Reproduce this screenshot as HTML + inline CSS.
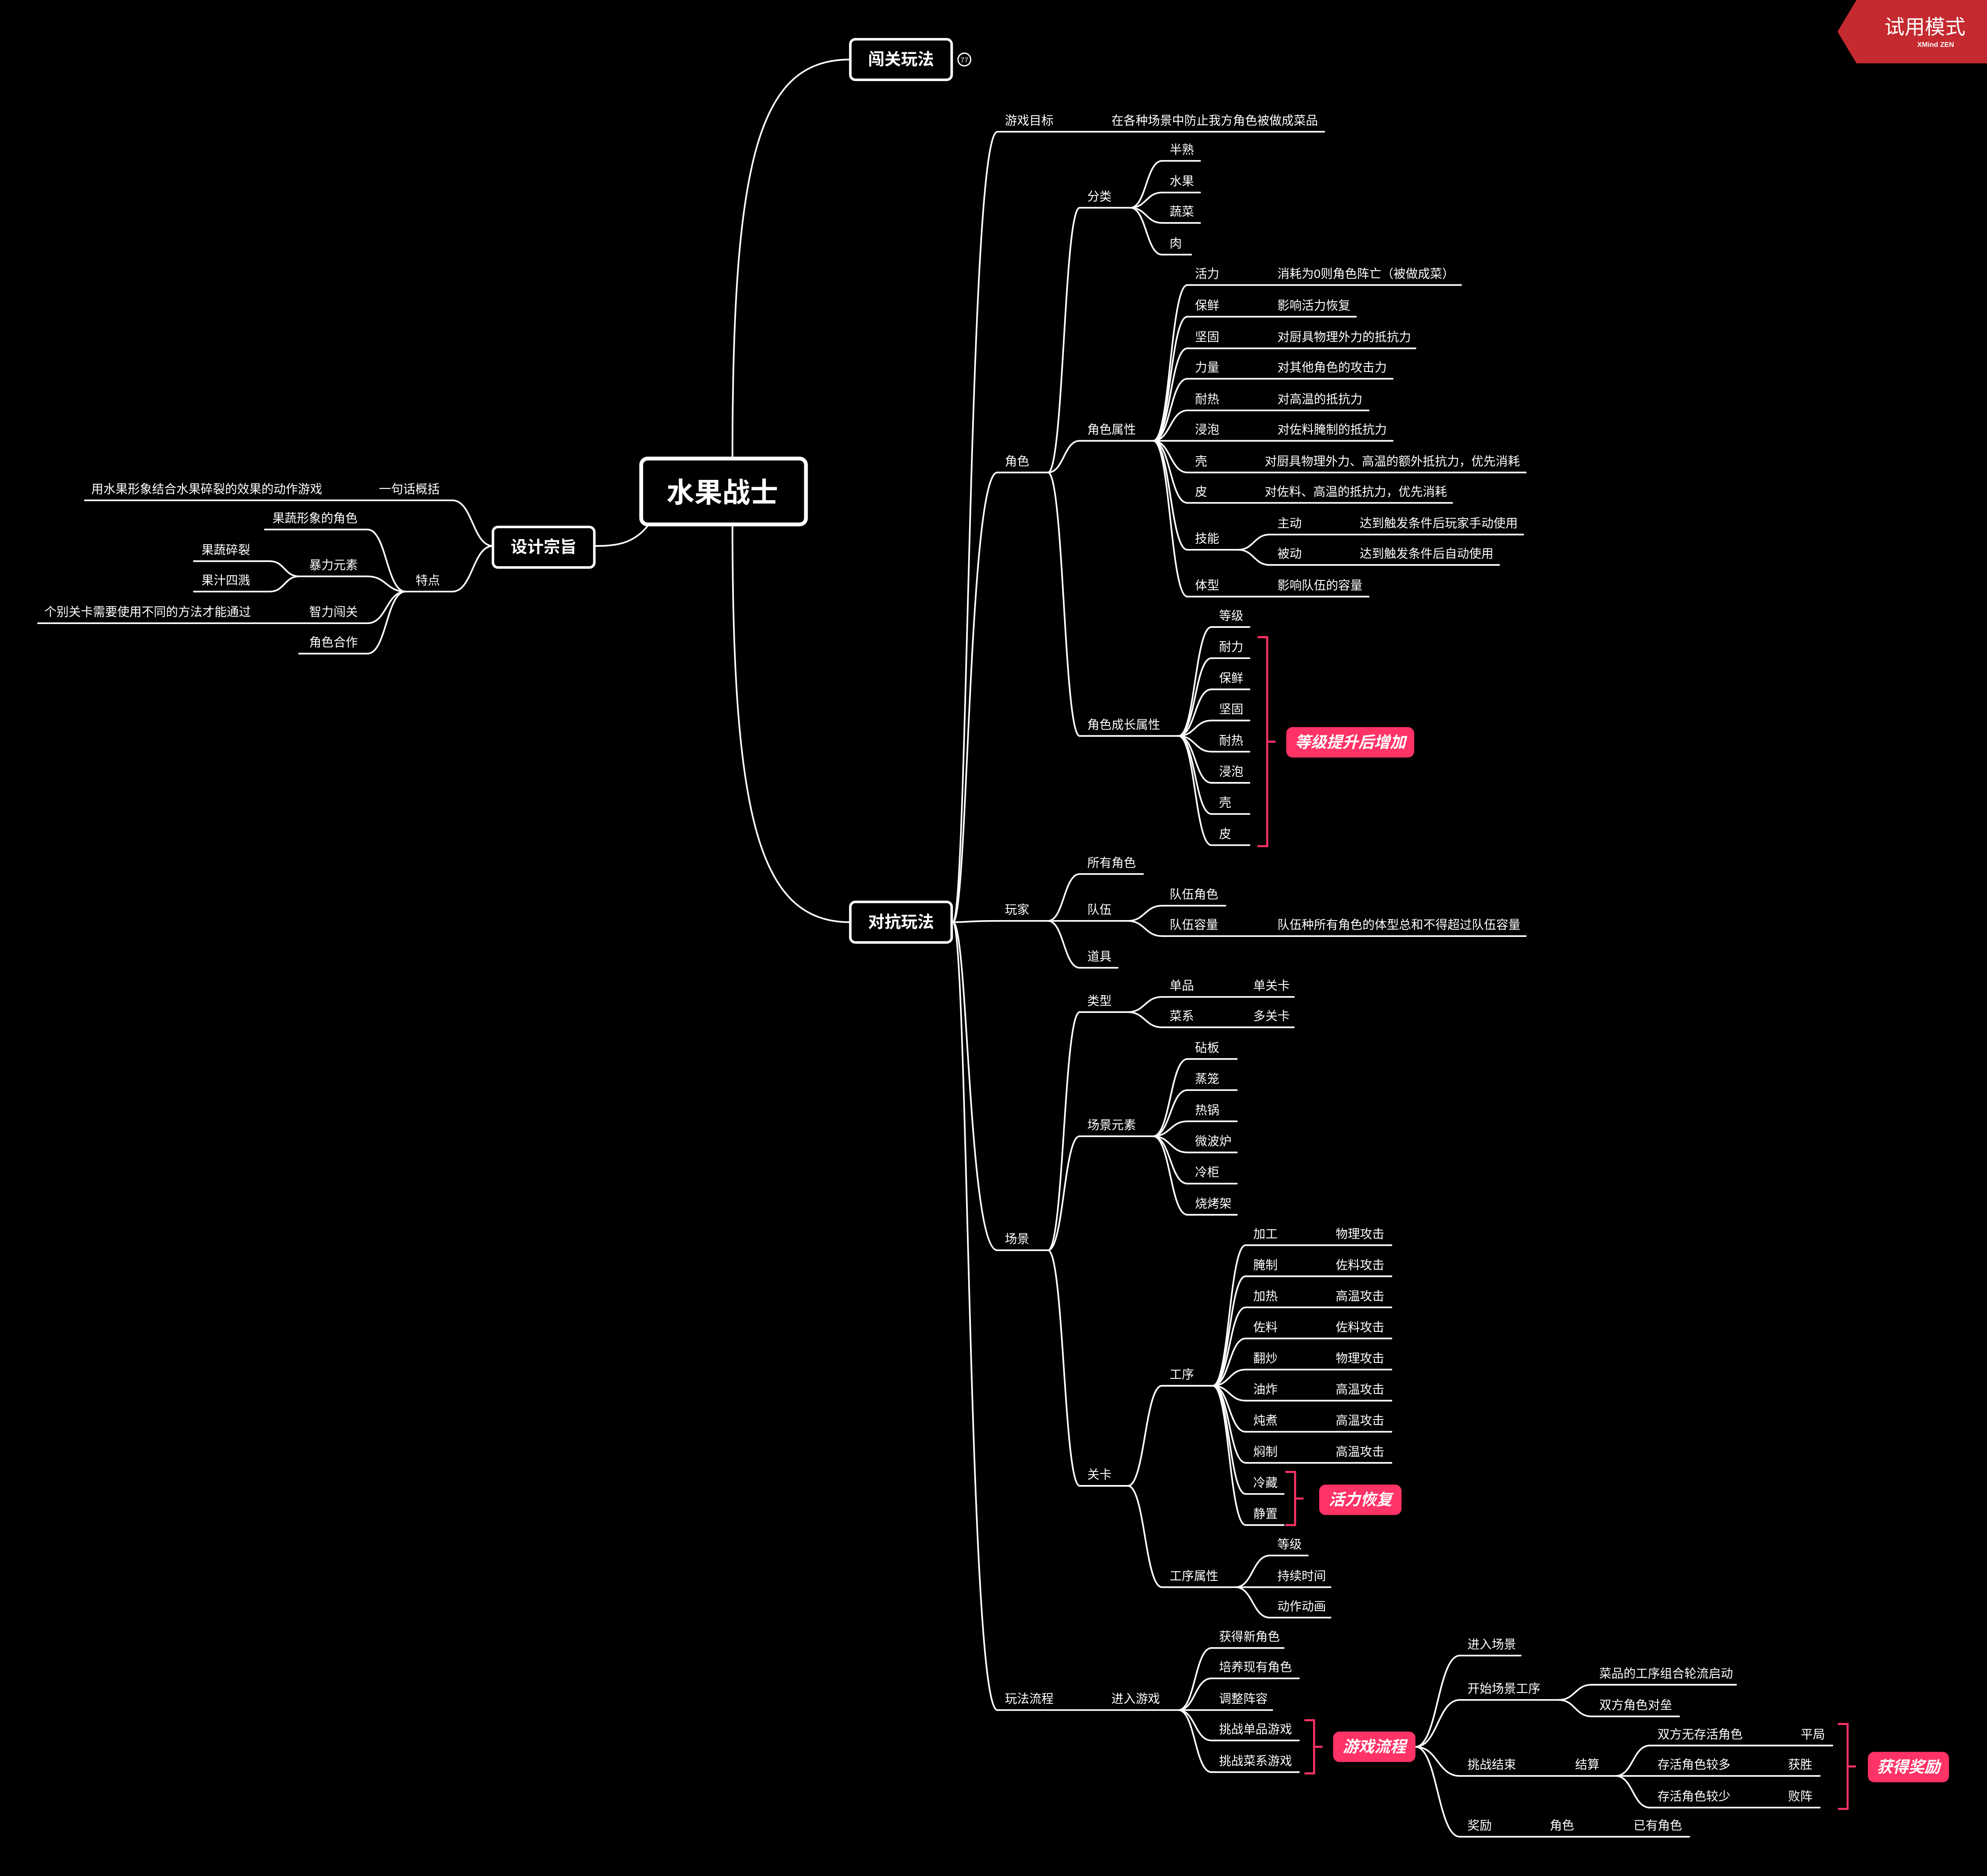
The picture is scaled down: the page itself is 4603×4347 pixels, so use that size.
<!DOCTYPE html>
<html><head><meta charset="utf-8">
<style>
html,body{margin:0;padding:0;background:#000;width:4603px;height:4347px;overflow:hidden}
svg{display:block}
text{font-family:"Liberation Sans","Noto Sans CJK SC",sans-serif;fill:#fff}
</style></head>
<body>
<svg id="s" xmlns="http://www.w3.org/2000/svg" width="4603" height="4347" viewBox="0 0 1568 1481" preserveAspectRatio="none">
<rect x="0" y="0" width="1568" height="1481" fill="#000"/>
<polygon points="1465,0 1568,0 1568,50 1465,50 1450,25" fill="#c42a2f"/>
<text x="1487" y="27" font-size="16">试用模式</text>
<text x="1513" y="37" font-size="5.5" font-weight="bold">XMind ZEN</text>
<!-- main boxes -->
<rect x="506" y="362" width="130" height="52" rx="5" fill="#000" stroke="#fff" stroke-width="3"/>
<text x="570" y="389" font-size="22" font-weight="bold" text-anchor="middle" dominant-baseline="central">水果战士</text>
<rect x="671" y="31" width="80" height="32" rx="4" fill="#000" stroke="#fff" stroke-width="2"/>
<text x="711" y="47" font-size="13" font-weight="bold" text-anchor="middle" dominant-baseline="central">闯关玩法</text>
<circle cx="761" cy="47" r="5" fill="none" stroke="#fff" stroke-width="1"/>
<text x="761" y="47.5" font-size="5.5" text-anchor="middle" dominant-baseline="central">77</text>
<rect x="671" y="712" width="80" height="32" rx="4" fill="#000" stroke="#fff" stroke-width="2"/>
<text x="711" y="728" font-size="13" font-weight="bold" text-anchor="middle" dominant-baseline="central">对抗玩法</text>
<rect x="389" y="416" width="80" height="32" rx="4" fill="#000" stroke="#fff" stroke-width="2"/>
<text x="429" y="432" font-size="13" font-weight="bold" text-anchor="middle" dominant-baseline="central">设计宗旨</text>
<g id="g" fill="none" stroke="#fff" stroke-width="1.3" stroke-linecap="round"></g>
<g id="t"></g>
</svg>
<script>
var NS="http://www.w3.org/2000/svg",G=document.getElementById('g'),TG=document.getElementById('t');
function P(d,w,c){var p=document.createElementNS(NS,'path');p.setAttribute('d',d);if(w)p.setAttribute('stroke-width',w);if(c)p.setAttribute('stroke',c);G.appendChild(p);}
function T(x,y,s,fs){var t=document.createElementNS(NS,'text');t.setAttribute('x',x);t.setAttribute('y',y);t.setAttribute('font-size',fs||9.6);t.setAttribute('dominant-baseline','central');t.textContent=s;TG.appendChild(t);}
function C(px,py,cx,cy,k){var m=k?px+k:px+(cx-px)*0.5;P('M'+px+','+py+' C'+m+','+py+' '+m+','+cy+' '+cx+','+cy);}
function node(n,par,left){
  var yl=n.y+9,s=n.s!=null?n.s:n.x-6;
  P('M'+s+','+yl+' L'+n.e+','+yl);
  T(n.x,n.y,n.t);
  if(n.v)T(n.v[1],n.y,n.v[0]);
  if(n.v2)T(n.v2[1],n.y,n.v2[0]);
  if(par){ if(left)C(par[0],par[1],n.e,yl,par[2]);else C(par[0],par[1],s,yl,par[2]); }
  if(n.c){var ex=n.cx!=null?n.cx:(left?s:n.e);n.c.forEach(function(ch){node(ch,[ex,yl],left);});}
}
// root connectors
P('M578,361 C578,120 600,47 671,47');
P('M578,414 C578,650 600,728 671,728');
P('M512,414 C500,430 485,431 469,431');
// left
var L=[
 {t:'一句话概括',x:299,y:386,s:295,e:357,cx:295,c:[{t:'用水果形象结合水果碎裂的效果的动作游戏',x:72,y:386,s:67,e:295}]},
 {t:'特点',x:328,y:458,s:320,e:357,cx:320,c:[
  {t:'果蔬形象的角色',x:215,y:409,s:209,e:290},
  {t:'暴力元素',x:244,y:446,s:236,e:290,cx:236,c:[{t:'果蔬碎裂',x:159,y:434,s:153,e:213},{t:'果汁四溅',x:159,y:458,s:153,e:213}]},
  {t:'智力闯关',x:244,y:483,s:236,e:290,cx:236,c:[{t:'个别关卡需要使用不同的方法才能通过',x:35,y:483,s:30,e:236}]},
  {t:'角色合作',x:244,y:507,s:236,e:290}]}
];
L.forEach(function(n){node(n,[389,431],true);});
// right
function kv(t,y,v,vx,e,x){return {t:t,x:x||943,y:y,e:e,v:[v,vx]};}
var R=[
 {t:'游戏目标',x:793,y:95,e:1045,v:['在各种场景中防止我方角色被做成菜品',877]},
 {t:'角色',x:793,y:364,e:827,c:[
  {t:'分类',x:858,y:155,e:892,c:[{t:'半熟',x:923,y:118,e:947},{t:'水果',x:923,y:143,e:947},{t:'蔬菜',x:923,y:167,e:947},{t:'肉',x:923,y:192,e:940}]},
  {t:'角色属性',x:858,y:339,e:910,c:[
   kv('活力',216,'消耗为0则角色阵亡（被做成菜）',1008,1153),
   kv('保鲜',241,'影响活力恢复',1008,1070),
   kv('坚固',266,'对厨具物理外力的抵抗力',1008,1117),
   kv('力量',290,'对其他角色的攻击力',1008,1099),
   kv('耐热',315,'对高温的抵抗力',1008,1080),
   kv('浸泡',339,'对佐料腌制的抵抗力',1008,1099),
   kv('壳',364,'对厨具物理外力、高温的额外抵抗力，优先消耗',998,1204),
   kv('皮',388,'对佐料、高温的抵抗力，优先消耗',998,1146),
   {t:'技能',x:943,y:425,e:977,c:[kv('主动',413,'达到触发条件后玩家手动使用',1073,1202,1008),kv('被动',437,'达到触发条件后自动使用',1073,1183,1008)]},
   kv('体型',462,'影响队伍的容量',1008,1080)]},
  {t:'角色成长属性',x:858,y:572,e:930,c:['等级','耐力','保鲜','坚固','耐热','浸泡','壳','皮'].map(function(s,i){return {t:s,x:962,y:486+i*24.6,e:986};})}
 ]},
 {t:'玩家',x:793,y:718,e:827,c:[
  {t:'所有角色',x:858,y:681,e:902},
  {t:'队伍',x:858,y:718,e:890,c:[{t:'队伍角色',x:923,y:706,e:967},{t:'队伍容量',x:923,y:730,e:1204,v:['队伍种所有角色的体型总和不得超过队伍容量',1008]}]},
  {t:'道具',x:858,y:755,e:882}]},
 {t:'场景',x:793,y:978,e:827,c:[
  {t:'类型',x:858,y:790,e:890,c:[{t:'单品',x:923,y:778,e:1021,v:['单关卡',989]},{t:'菜系',x:923,y:802,e:1021,v:['多关卡',989]}]},
  {t:'场景元素',x:858,y:888,e:910,c:['砧板','蒸笼','热锅','微波炉','冷柜','烧烤架'].map(function(s,i){return {t:s,x:943,y:827+i*24.6,e:976};})},
  {t:'关卡',x:858,y:1164,e:890,c:[
   {t:'工序',x:923,y:1085,e:957,c:[['加工','物理攻击'],['腌制','佐料攻击'],['加热','高温攻击'],['佐料','佐料攻击'],['翻炒','物理攻击'],['油炸','高温攻击'],['炖煮','高温攻击'],['焖制','高温攻击'],['冷藏'],['静置']].map(function(a,i){var n={t:a[0],x:989,y:974+i*24.55,e:a[1]?1098:1013};if(a[1])n.v=[a[1],1054];return n;})},
   {t:'工序属性',x:923,y:1244,e:975,c:[{t:'等级',x:1008,y:1219,e:1032},{t:'持续时间',x:1008,y:1244,e:1050},{t:'动作动画',x:1008,y:1268,e:1050}]}]}
 ]},
 {t:'玩法流程',x:793,y:1341,e:930,v:['进入游戏',877],c:[
  {t:'获得新角色',x:962,y:1292,e:1013},{t:'培养现有角色',x:962,y:1316,e:1025},{t:'调整阵容',x:962,y:1341,e:1004},{t:'挑战单品游戏',x:962,y:1365,e:1025},{t:'挑战菜系游戏',x:962,y:1390,e:1025}]}
];
R.forEach(function(n){node(n,[752,728,12]);});
// 游戏流程 subtree
var F=[
 {t:'进入场景',x:1158,y:1298,e:1200},
 {t:'开始场景工序',x:1158,y:1333,e:1230,c:[{t:'菜品的工序组合轮流启动',x:1262,y:1321,e:1370},{t:'双方角色对垒',x:1262,y:1346,e:1325}]},
 {t:'挑战结束',x:1158,y:1393,e:1275,v:['结算',1243],c:[
  {t:'双方无存活角色',x:1308,y:1369,e:1446,v:['平局',1421]},
  {t:'存活角色较多',x:1308,y:1393,e:1436,v:['获胜',1411]},
  {t:'存活角色较少',x:1308,y:1418,e:1436,v:['败阵',1411]}]},
 {t:'奖励',x:1158,y:1441,e:1333,v:['角色',1223],v2:['已有角色',1289]}
];
F.forEach(function(n){node(n,[1117,1379]);});
// brackets + callouts
function BR(x,y0,y1,bx,by,bw,bh,txt){
 var c='#ff3366',ym=(y0+y1)/2;
 P('M'+(x-7)+','+y0+' L'+x+','+y0+' L'+x+','+y1+' L'+(x-7)+','+y1,1.6,c);
 P('M'+x+','+ym+' L'+(x+6)+','+ym,1.6,c);
 var r=document.createElementNS(NS,'rect');r.setAttribute('x',bx);r.setAttribute('y',by);r.setAttribute('width',bw);r.setAttribute('height',bh);r.setAttribute('rx',5);r.setAttribute('fill',c);TG.appendChild(r);
 var t=document.createElementNS(NS,'text');t.setAttribute('x',bx+bw/2);t.setAttribute('y',by+bh/2);t.setAttribute('font-size',12.5);t.setAttribute('font-weight','bold');t.setAttribute('font-style','italic');t.setAttribute('text-anchor','middle');t.setAttribute('dominant-baseline','central');t.textContent=txt;TG.appendChild(t);
}
BR(1000,503,668,1015,574,101,24,'等级提升后增加');
BR(1022,1162,1204,1041,1172,65,24,'活力恢复');
BR(1037,1358,1400,1052,1367,65,24,'游戏流程');
BR(1458,1361,1428,1474,1383,64,24,'获得奖励');
</script>
</body></html>
